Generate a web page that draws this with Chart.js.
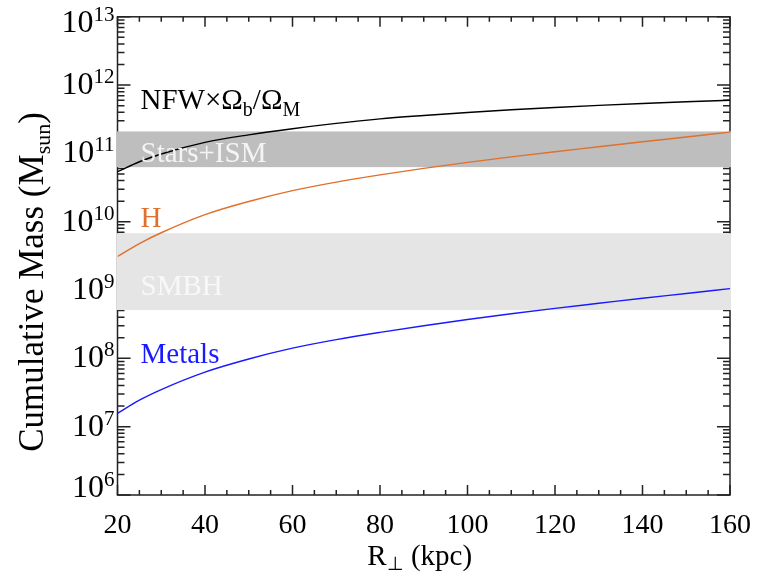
<!DOCTYPE html>
<html>
<head>
<meta charset="utf-8">
<script src="https://cdn.jsdelivr.net/npm/chart.js@4"></script>
<style>
  html, body { margin: 0; padding: 0; background: #fff; }
  #wrap { width: 767px; height: 573px; }
</style>
</head>
<body>
<div id="wrap"><canvas id="massChart"></canvas></div>
<script>
// projected radius (kpc) and cumulative masses (M_sun)
const radius    = [20, 25, 30, 40, 50, 60, 70, 80, 90, 100, 110, 120, 130, 140, 150, 160];
const nfwMass   = [5.4e10, 7.55e10, 9.8e10, 1.45e11, 1.87e11, 2.3e11, 2.75e11, 3.2e11, 3.59e11, 3.98e11, 4.35e11, 4.7e11, 5.05e11, 5.38e11, 5.7e11, 6.0e11];
const hMass     = [3.1e9, 4.8e9, 6.9e9, 1.27e10, 1.98e10, 2.85e10, 3.8e10, 4.85e10, 6.05e10, 7.4e10, 8.9e10, 1.06e11, 1.25e11, 1.48e11, 1.74e11, 2.05e11];
const metalMass = [1.57e7, 2.45e7, 3.5e7, 6.3e7, 9.8e7, 1.41e8, 1.88e8, 2.4e8, 3.0e8, 3.7e8, 4.5e8, 5.4e8, 6.4e8, 7.6e8, 8.9e8, 1.05e9];

// horizontal mass ranges (low, high)
const starsIsmBand = [6.3e10, 2.1e11];
const smbhBand     = [5.1e8, 6.8e9];

const xTicks   = [20, 40, 60, 80, 100, 120, 140, 160];
const yDecades = [6, 7, 8, 9, 10, 11, 12, 13];

const serif = '"Liberation Serif"';

function richWidth(ctx, parts) {
  let w = 0;
  parts.forEach(p => { ctx.font = p.size + "px " + serif; w += ctx.measureText(p.t).width; });
  return w;
}

function drawRich(ctx, parts, x, y, color) {
  let cx = x;
  ctx.fillStyle = color;
  ctx.textBaseline = "alphabetic";
  ctx.textAlign = "left";
  parts.forEach(p => {
    ctx.font = p.size + "px " + serif;
    ctx.fillText(p.t, cx, y + (p.dy || 0));
    cx += ctx.measureText(p.t).width;
  });
}

const framePlugin = {
  id: "frame",
  beforeDatasetsDraw(chart) {
    const { ctx, chartArea: a, scales: { x, y } } = chart;
    ctx.save();
    ctx.strokeStyle = "#222";
    ctx.lineWidth = 1.5;
    ctx.strokeRect(a.left, a.top, a.right - a.left, a.bottom - a.top);

    ctx.beginPath();
    for (let v = x.min; v <= x.max; v += 5) {
      const px = x.getPixelForValue(v);
      const len = xTicks.includes(v) ? 10 : 5;
      ctx.moveTo(px, a.bottom); ctx.lineTo(px, a.bottom - len);
      ctx.moveTo(px, a.top); ctx.lineTo(px, a.top + len);
    }
    yDecades.forEach((d, i) => {
      const last = i === yDecades.length - 1;
      for (let m = 1; m <= (last ? 1 : 9); m++) {
        const py = y.getPixelForValue(m * Math.pow(10, d));
        const len = m === 1 ? 13 : 7;
        ctx.moveTo(a.left, py); ctx.lineTo(a.left + len, py);
        ctx.moveTo(a.right, py); ctx.lineTo(a.right - len, py);
      }
    });
    ctx.stroke();

    // shaded ranges sit on top of the frame, under the curves
    [[starsIsmBand, "#bebebe"], [smbhBand, "#e5e5e5"]].forEach(([b, c]) => {
      const top = y.getPixelForValue(b[1]);
      const bot = y.getPixelForValue(b[0]);
      ctx.fillStyle = c;
      ctx.fillRect(a.left - 1, top, a.right - a.left + 2, bot - top);
    });
    ctx.restore();
  },
  afterDatasetsDraw(chart) {
    const { ctx, chartArea: a, scales: { y } } = chart;
    ctx.save();
    const lx = a.left + 23;

    drawRich(ctx, [
      { t: "NFW×Ω", size: 29 },
      { t: "b", size: 20, dy: 7 },
      { t: "/Ω", size: 29 },
      { t: "M", size: 20, dy: 7 }
    ], lx, 109, "#000");
    drawRich(ctx, [{ t: "Stars+ISM", size: 29 }], lx, 162, "#f4f4f4");
    drawRich(ctx, [{ t: "H", size: 29 }], lx, 227, "#e0702c");
    drawRich(ctx, [{ t: "SMBH", size: 29 }], lx, 295, "#f8f8f8");
    drawRich(ctx, [{ t: "Metals", size: 29 }], lx, 363, "#1a1aff");

    // y tick labels 10^n
    yDecades.forEach(d => {
      const py = y.getPixelForValue(Math.pow(10, d));
      const base = Math.min(Math.max(py + 9, a.top + 15), a.bottom + 2);
      const parts = [{ t: "10", size: 32 }, { t: String(d), size: 21, dy: -11 }];
      const w = richWidth(ctx, parts);
      drawRich(ctx, parts, a.left - 3 - w, base, "#000");
    });

    // x title
    const xParts = [
      { t: "R", size: 29 },
      { t: "⊥", size: 19, dy: 5 },
      { t: " (kpc)", size: 29 }
    ];
    const xw = richWidth(ctx, xParts);
    drawRich(ctx, xParts, (a.left + a.right) / 2 - 4 - xw / 2, 565, "#000");

    // y title, rotated
    const yParts = [
      { t: "Cumulative Mass (M", size: 35 },
      { t: "sun", size: 22, dy: 7 },
      { t: ")", size: 35 }
    ];
    const yw = richWidth(ctx, yParts);
    ctx.translate(43, 282);
    ctx.rotate(-Math.PI / 2);
    drawRich(ctx, yParts, -yw / 2, 0, "#000");
    ctx.restore();
  }
};

const toPoints = arr => radius.map((r, i) => ({ x: r, y: arr[i] }));

new Chart(document.getElementById("massChart"), {
  type: "line",
  data: {
    datasets: [
      { label: "NFW", data: toPoints(nfwMass), borderColor: "#000", borderWidth: 1.4 },
      { label: "H", data: toPoints(hMass), borderColor: "#e0702c", borderWidth: 1.4 },
      { label: "Metals", data: toPoints(metalMass), borderColor: "#1a1aff", borderWidth: 1.4 }
    ]
  },
  options: {
    responsive: true,
    maintainAspectRatio: false,
    animation: false,
    devicePixelRatio: 1,
    elements: {
      point: { radius: 0 },
      line: { cubicInterpolationMode: "monotone", fill: false }
    },
    layout: { padding: { left: 117.5, top: 16.8, right: 37, bottom: 0 } },
    plugins: { legend: { display: false }, tooltip: { enabled: false } },
    scales: {
      x: {
        type: "linear",
        min: 20,
        max: 160,
        afterBuildTicks: s => { s.ticks = xTicks.map(v => ({ value: v })); },
        afterFit: s => { s.height = 78; s.paddingLeft = 0; s.paddingRight = 0; },
        ticks: { color: "#000", padding: 14, maxRotation: 0, font: { family: serif, size: 28 } },
        grid: { display: false, drawTicks: false, tickLength: 0 },
        border: { display: false }
      },
      y: {
        type: "logarithmic",
        min: 1e6,
        max: 1e13,
        afterFit: s => { s.width = 0; s.paddingTop = 0; s.paddingBottom = 0; },
        ticks: { display: false },
        grid: { display: false, drawTicks: false, tickLength: 0 },
        border: { display: false }
      }
    }
  },
  plugins: [framePlugin]
});
</script>
</body>
</html>
